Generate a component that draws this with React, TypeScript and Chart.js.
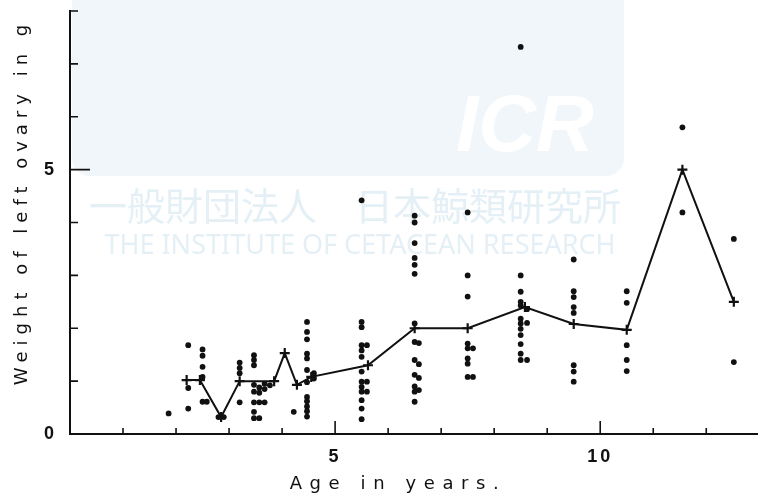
import React, { useEffect, useRef } from "react";
import { Chart, registerables } from "chart.js";

Chart.register(...registerables);

// Individual ovary weights, grouped by age column: [age in years, weights in g]
const dotGroups: [number, number[]][] = [
  [1.86, [0.39]],
  [2.23, [1.68, 0.87, 0.48]],
  [2.5, [1.6, 1.48, 1.27, 1.08, 0.61]],
  [2.58, [0.61]],
  [2.8, [0.32]],
  [2.9, [0.32]],
  [3.2, [1.35, 1.25, 1.15, 0.6]],
  [3.47, [1.49, 1.4, 1.3, 0.93, 0.8, 0.6, 0.42, 0.3]],
  [3.57, [0.88, 0.78, 0.6, 0.3]],
  [3.67, [0.95, 0.85, 0.6]],
  [3.77, [0.92]],
  [4.22, [0.42]],
  [4.47, [2.12, 1.93, 1.79, 1.52, 1.43, 1.21, 0.98, 0.7, 0.62, 0.52, 0.43, 0.33]],
  [4.6, [1.15, 1.05]],
  [5.5, [4.42, 2.12, 2.02, 1.68, 1.58, 1.46, 1.18, 0.99, 0.89, 0.8, 0.64, 0.48, 0.28]],
  [5.6, [1.68, 0.99, 0.8]],
  [6.5, [4.13, 4.0, 3.61, 3.33, 3.2, 3.03, 2.09, 1.74, 1.4, 1.12, 0.9, 0.8, 0.61]],
  [6.58, [1.72, 1.32, 1.06, 0.83]],
  [7.5, [4.19, 3.0, 2.6, 1.71, 1.62, 1.43, 1.33, 1.08]],
  [7.6, [1.62, 1.08]],
  [8.5, [7.32, 3.0, 2.69, 2.5, 2.43, 2.18, 2.09, 1.99, 1.87, 1.7, 1.52, 1.4]],
  [8.62, [2.36, 2.1, 1.4]],
  [9.5, [3.3, 2.7, 2.59, 2.4, 2.29, 1.3, 1.18, 0.99]],
  [10.5, [2.7, 2.48, 1.68, 1.4, 1.19]],
  [11.55, [5.8, 4.19]],
  [12.52, [3.69, 1.36]],
];

// Mean line (+ markers)
const meanAges = [2.2, 2.45, 2.85, 3.2, 3.85, 4.05, 4.28, 4.55, 5.62, 6.5, 7.5, 8.58, 9.5, 10.5, 11.55, 12.52];
const meanWeights = [1.02, 1.02, 0.32, 1.0, 1.0, 1.53, 0.93, 1.08, 1.3, 2.0, 2.0, 2.4, 2.08, 1.97, 5.0, 2.5];

const xLabeledTicks = [5, 10];
const yLabeledTicks = [0, 5];
const xMajorTicks = [5, 10];
const yMajorTicks = [5];
const xTitle = "Age in years.";
const yTitle = "Weight of left ovary in g";
const wmJapanese = "一般財団法人　日本鯨類研究所";
const wmEnglish = "THE INSTITUTE OF CETACEAN RESEARCH";
const wmLogo = "ICR";

const decorPlugin = {
  id: "decor",
  beforeDraw(chart: any) {
    const ctx = chart.ctx as CanvasRenderingContext2D;
    ctx.save();
    // faint watermark
    ctx.fillStyle = "#f0f6fa";
    ctx.beginPath();
    (ctx as any).roundRect(72, -20, 552, 196, 18);
    ctx.fill();
    ctx.fillStyle = "#ffffff";
    ctx.font = 'italic bold 80px "Liberation Sans"';
    ctx.textAlign = "left";
    ctx.textBaseline = "alphabetic";
    ctx.fillText(wmLogo, 456, 151);
    ctx.fillStyle = "#e4f0f6";
    ctx.font = '38px "Noto Sans CJK JP"';
    ctx.textAlign = "center";
    ctx.textBaseline = "middle";
    ctx.fillText(wmJapanese, 355, 206);
    ctx.font = '27px "Noto Sans"';
    ctx.fillText(wmEnglish, 360, 246);
    ctx.restore();
    (ctx as any).letterSpacing = "3px";
  },
  afterDraw(chart: any) {
    const ctx = chart.ctx as CanvasRenderingContext2D;
    const xs = chart.scales.x;
    const ys = chart.scales.y;
    const area = chart.chartArea;
    ctx.save();
    (ctx as any).letterSpacing = "0px";
    ctx.strokeStyle = "#111";
    // axis line continues to the edge of the figure
    ctx.lineWidth = 2;
    ctx.beginPath();
    ctx.moveTo(area.right - 1, area.bottom);
    ctx.lineTo(chart.width, area.bottom);
    ctx.stroke();
    ctx.lineWidth = 1.6;
    ctx.beginPath();
    for (let v = 1; v <= 12; v++) {
      const px = xs.getPixelForValue(v);
      const len = xMajorTicks.includes(v) ? 13 : 6;
      ctx.moveTo(px, area.bottom);
      ctx.lineTo(px, area.bottom - len);
    }
    for (let v = 1; v <= 8; v++) {
      const py = ys.getPixelForValue(v);
      const len = yMajorTicks.includes(v) ? 20 : 8;
      ctx.moveTo(area.left, py);
      ctx.lineTo(area.left + len, py);
    }
    ctx.stroke();

    ctx.fillStyle = "#111";
    ctx.font = '18px "DejaVu Sans"';
    ctx.textAlign = "center";
    ctx.textBaseline = "middle";
    (ctx as any).letterSpacing = "7.6px";
    ctx.fillText(xTitle, 398, 484);
    ctx.translate(22, 202);
    ctx.rotate(-Math.PI / 2);
    (ctx as any).letterSpacing = "6px";
    ctx.fillText(yTitle, 0, 0);
    ctx.restore();
    (ctx as any).letterSpacing = "0px";
  },
};

const noScalePadding = (s: any) => {
  s.paddingTop = 0;
  s.paddingBottom = 0;
  s.paddingLeft = 0;
  s.paddingRight = 0;
};

export default function App() {
  const canvasRef = useRef<HTMLCanvasElement | null>(null);

  useEffect(() => {
    if (!canvasRef.current) return;
    const dots: { x: number; y: number }[] = [];
    dotGroups.forEach(([age, ws]) => ws.forEach((w) => dots.push({ x: age, y: w })));
    const means = meanAges.map((a, i) => ({ x: a, y: meanWeights[i] }));

    const chart = new Chart(canvasRef.current, {
      type: "scatter",
      data: {
        datasets: [
          {
            label: "individuals",
            data: dots,
            pointRadius: 2.9,
            pointBackgroundColor: "#111",
            pointBorderWidth: 0,
            showLine: false,
          },
          {
            label: "mean",
            data: means,
            showLine: true,
            borderColor: "#111",
            borderWidth: 2,
            pointStyle: "cross",
            pointRadius: 5,
            pointBorderWidth: 2.2,
            pointBorderColor: "#111",
          },
        ],
      },
      options: {
        animation: false,
        responsive: false,
        maintainAspectRatio: false,
        layout: { padding: { top: 11, right: 0, left: 0, bottom: 0 } },
        plugins: { legend: { display: false }, tooltip: { enabled: false } },
        scales: {
          x: {
            type: "linear",
            min: 0,
            max: 12.84,
            grid: { display: false, drawTicks: false },
            border: { display: true, color: "#111", width: 2 },
            ticks: {
              stepSize: 1,
              padding: 12,
              color: "#111",
              maxRotation: 0,
              autoSkip: false,
              font: { family: "Liberation Sans", size: 18, weight: "bold" },
              callback: (v: any) => (xLabeledTicks.includes(Number(v)) ? String(v) : ""),
            },
            afterFit: (s: any) => {
              s.height = 68;
              noScalePadding(s);
            },
          },
          y: {
            type: "linear",
            min: 0,
            max: 8,
            grid: { display: false, drawTicks: false },
            border: { display: true, color: "#111", width: 2 },
            ticks: {
              stepSize: 1,
              padding: 13,
              color: "#111",
              autoSkip: false,
              font: { family: "Liberation Sans", size: 18, weight: "bold" },
              callback: (v: any) => (yLabeledTicks.includes(Number(v)) ? String(v) : ""),
            },
            afterFit: (s: any) => {
              s.width = 70;
              noScalePadding(s);
            },
          },
        },
      },
      plugins: [decorPlugin],
    });
    return () => chart.destroy();
  }, []);

  return (
    <div style={{ position: "fixed", left: 0, top: 0, width: 758, height: 502, background: "#fff" }}>
      <canvas ref={canvasRef} width={758} height={502} style={{ display: "block" }} />
    </div>
  );
}
